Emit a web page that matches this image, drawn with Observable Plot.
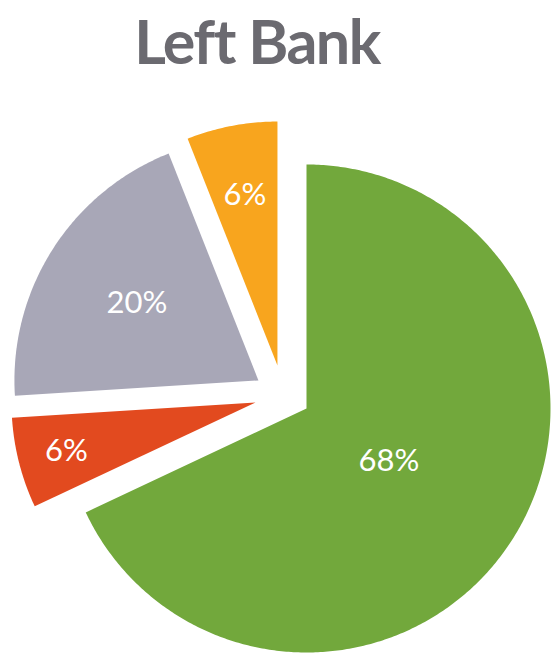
<!DOCTYPE html>
<html>
<head>
<meta charset="utf-8">
<script src="https://cdn.jsdelivr.net/npm/d3@7"></script>
<script src="https://cdn.jsdelivr.net/npm/@observablehq/plot@0.6"></script>
<style>
  body { margin: 0; background: #ffffff; width: 554px; height: 657px; overflow: hidden; }
  #title { height: 100px; box-sizing: border-box; padding-top: 6px; text-align: center;
           font-family: Lato, "Open Sans", sans-serif; font-weight: 700; font-size: 61px;
           letter-spacing: -1.5px; color: #6b6a70; line-height: 70px; padding-right: 40px; }
  #chart svg { display: block; }
</style>
</head>
<body>
<div id="title">Left Bank</div>
<div id="chart"></div>
<script>
// ---- data ----
const categories = ["Segment A", "Segment B", "Segment C", "Segment D"];
const values = [68, 6, 20, 6];
const labels = ["68%", "6%", "20%", "6%"];

// ---- styling / layout ----
const colors = ["#72a83c", "#e24a1f", "#a8a7b7", "#f8a51e"];
const R = 244;            // radius in px
const W = 554, H = 557;   // svg size
const CX = 306, CY = 308; // pie centre in svg px
// explode offsets (in radius units, y up) and label radii per slice
const explode = [[0, 0], [-0.209, 0.025], [-0.197, 0.115], [-0.119, 0.176]];
const labelRadius = [0.40, 0.80, 0.59, 0.71];

const arcs = d3.pie().sort(null).value(d => d)(values);

const shapes = [];
const texts = [];
arcs.forEach((a, i) => {
  const [ox, oy] = explode[i];
  const cat = categories[i];
  shapes.push({cat, x: ox, y: oy});
  const n = Math.max(4, Math.ceil((a.endAngle - a.startAngle) / 0.01));
  for (let k = 0; k <= n; k++) {
    const t = a.startAngle + (a.endAngle - a.startAngle) * k / n;
    shapes.push({cat, x: ox + Math.sin(t), y: oy + Math.cos(t)});
  }
  shapes.push({cat, x: ox, y: oy});
  const mid = (a.startAngle + a.endAngle) / 2;
  texts.push({cat, text: labels[i], x: ox + labelRadius[i] * Math.sin(mid), y: oy + labelRadius[i] * Math.cos(mid)});
});

const chart = Plot.plot({
  width: W,
  height: H,
  margin: 0,
  x: {domain: [-CX / R, (W - CX) / R], axis: null},
  y: {domain: [-(H - CY) / R, CY / R], axis: null},
  color: {domain: categories, range: colors},
  marks: [
    Plot.line(shapes, {x: "x", y: "y", z: "cat", fill: "cat", stroke: "none", curve: "linear"}),
    Plot.text(texts, {x: "x", y: "y", text: "text", fill: "white", fontSize: 31,
                      fontFamily: "Lato, 'Open Sans', sans-serif"})
  ]
});
document.getElementById("chart").appendChild(chart);
</script>
</body>
</html>
